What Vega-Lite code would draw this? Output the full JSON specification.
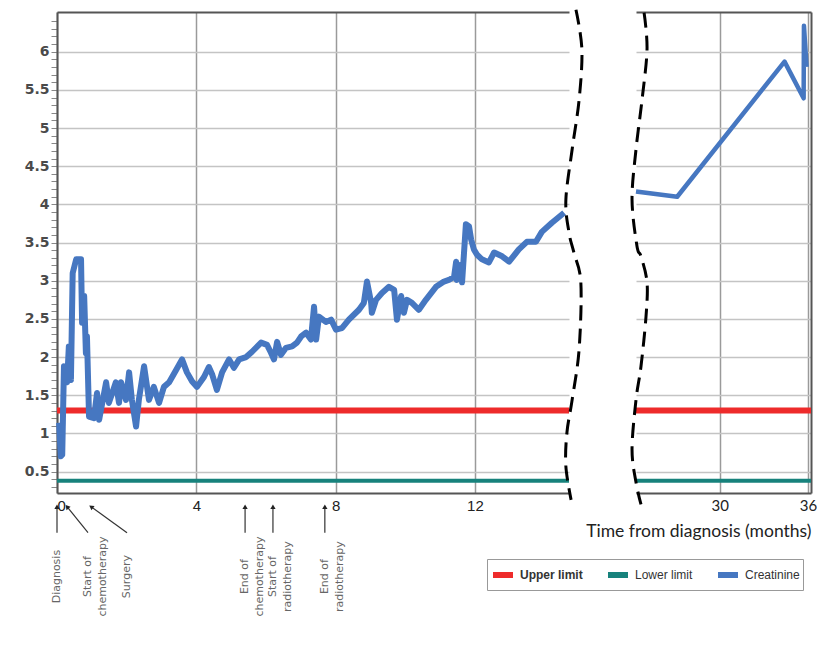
{
  "$schema": "https://vega.github.io/schema/vega-lite/v6.json",
  "background": "white",
  "padding": {"left": 24, "top": 3, "right": 0, "bottom": 0},
  "bounds": "flush",
  "spacing": 67,
  "config": {"view": {"stroke": null}},
  "datasets": {
    "creatLeft": [
      {"m":0.06,"v":1.14},{"m":0.11,"v":0.70},{"m":0.15,"v":0.72},{"m":0.20,"v":1.88},{"m":0.29,"v":1.67},
      {"m":0.34,"v":2.14},{"m":0.40,"v":1.70},{"m":0.45,"v":3.10},{"m":0.55,"v":3.28},{"m":0.69,"v":3.28},
      {"m":0.72,"v":2.45},{"m":0.78,"v":2.80},{"m":0.83,"v":2.05},{"m":0.86,"v":2.27},{"m":0.92,"v":1.22},
      {"m":1.06,"v":1.20},{"m":1.15,"v":1.53},{"m":1.21,"v":1.18},{"m":1.41,"v":1.67},{"m":1.49,"v":1.40},
      {"m":1.69,"v":1.67},{"m":1.78,"v":1.40},{"m":1.84,"v":1.67},{"m":1.98,"v":1.44},{"m":2.07,"v":1.80},
      {"m":2.15,"v":1.44},{"m":2.27,"v":1.09},{"m":2.35,"v":1.44},{"m":2.50,"v":1.88},{"m":2.64,"v":1.44},
      {"m":2.78,"v":1.61},{"m":2.93,"v":1.40},{"m":3.07,"v":1.61},{"m":3.22,"v":1.67},{"m":3.42,"v":1.83},
      {"m":3.59,"v":1.97},{"m":3.73,"v":1.80},{"m":3.88,"v":1.68},{"m":4.02,"v":1.61},{"m":4.22,"v":1.74},
      {"m":4.36,"v":1.87},{"m":4.45,"v":1.78},{"m":4.59,"v":1.57},{"m":4.74,"v":1.80},{"m":4.94,"v":1.97},
      {"m":5.08,"v":1.86},{"m":5.23,"v":1.97},{"m":5.43,"v":2.00},{"m":5.60,"v":2.07},{"m":5.86,"v":2.19},
      {"m":6.03,"v":2.16},{"m":6.14,"v":2.06},{"m":6.23,"v":1.97},{"m":6.32,"v":2.20},{"m":6.43,"v":2.03},
      {"m":6.57,"v":2.12},{"m":6.75,"v":2.14},{"m":6.89,"v":2.19},{"m":7.01,"v":2.27},{"m":7.15,"v":2.32},
      {"m":7.29,"v":2.23},{"m":7.38,"v":2.66},{"m":7.44,"v":2.23},{"m":7.52,"v":2.53},{"m":7.72,"v":2.46},
      {"m":7.87,"v":2.49},{"m":8.01,"v":2.36},{"m":8.18,"v":2.38},{"m":8.38,"v":2.49},{"m":8.67,"v":2.62},
      {"m":8.81,"v":2.71},{"m":8.90,"v":2.99},{"m":9.02,"v":2.71},{"m":9.04,"v":2.58},{"m":9.16,"v":2.75},
      {"m":9.33,"v":2.84},{"m":9.53,"v":2.92},{"m":9.68,"v":2.88},{"m":9.76,"v":2.49},{"m":9.88,"v":2.80},
      {"m":9.96,"v":2.58},{"m":10.05,"v":2.75},{"m":10.19,"v":2.71},{"m":10.39,"v":2.62},{"m":10.59,"v":2.75},
      {"m":10.88,"v":2.92},{"m":11.11,"v":2.99},{"m":11.25,"v":3.01},{"m":11.40,"v":3.05},{"m":11.46,"v":3.25},
      {"m":11.48,"v":3.01},{"m":11.60,"v":3.21},{"m":11.63,"v":2.98},{"m":11.74,"v":3.74},{"m":11.83,"v":3.71},
      {"m":11.89,"v":3.54},{"m":11.97,"v":3.41},{"m":12.06,"v":3.34},{"m":12.20,"v":3.28},{"m":12.40,"v":3.24},
      {"m":12.55,"v":3.37},{"m":12.78,"v":3.32},{"m":12.98,"v":3.25},{"m":13.26,"v":3.41},{"m":13.49,"v":3.51},
      {"m":13.75,"v":3.51},{"m":13.92,"v":3.64},{"m":14.21,"v":3.76},{"m":14.56,"v":3.89}
    ],
    "creatRight": [
      {"m":24.3,"v":4.17},{"m":27.1,"v":4.10},{"m":34.4,"v":5.87},{"m":35.7,"v":5.39},{"m":35.72,"v":6.34},{"m":35.9,"v":5.80}
    ],
    "limits": [
      {"series":"Upper limit","v":1.3},
      {"series":"Lower limit","v":0.38}
    ],
    "waveLeft": [
      {"m":14.90,"v":6.55},{"m":15.07,"v":6.03},{"m":14.99,"v":5.37},{"m":14.79,"v":4.72},{"m":14.61,"v":4.06},
      {"m":14.70,"v":3.63},{"m":14.84,"v":3.37},{"m":15.04,"v":2.98},{"m":14.99,"v":2.10},{"m":14.79,"v":1.44},
      {"m":14.64,"v":1.01},{"m":14.61,"v":0.57},{"m":14.76,"v":0.13}
    ],
    "waveRight": [
      {"m":24.85,"v":6.51},{"m":25.05,"v":6.03},{"m":24.71,"v":5.37},{"m":24.30,"v":4.72},{"m":24.03,"v":4.06},
      {"m":24.37,"v":3.45},{"m":24.64,"v":3.32},{"m":25.05,"v":2.98},{"m":24.98,"v":2.53},{"m":24.64,"v":1.88},
      {"m":24.30,"v":1.44},{"m":24.03,"v":0.79},{"m":24.30,"v":0.36},{"m":24.64,"v":0.07}
    ],
    "events": [
      {"event":"Diagnosis","label":["Diagnosis"],"month":0,"labelAt":0},
      {"event":"Start of chemotherapy","label":["Start of","chemotherapy"],"month":0.29,"labelAt":0.89},
      {"event":"Surgery","label":["Surgery"],"month":0.98,"labelAt":2.01},
      {"event":"End of chemotherapy","label":["End of","chemotherapy"],"month":5.4,"labelAt":5.4},
      {"event":"Start of radiotherapy","label":["Start of","radiotherapy"],"month":6.2,"labelAt":6.2},
      {"event":"End of radiotherapy","label":["End of","radiotherapy"],"month":7.69,"labelAt":7.69}
    ]
  },
  "hconcat": [
    {
      "width": 512,
      "height": 481,
      "resolve": {"axis": {"x": "independent", "y": "independent"}},
      "layer": [
        {
          "data": {"name": "limits"},
          "mark": {"type": "rule"},
          "encoding": {
            "y": {"field": "v", "type": "quantitative", "scale": {"domain": [0.22, 6.52], "nice": false, "zero": false}, "axis": null},
            "color": {"field": "series", "type": "nominal",
              "scale": {"domain": ["Upper limit","Lower limit","Creatinine"], "range": ["#ee2b2b","#17827c","#4677c1"]},
              "legend": {"orient": "none", "legendX": 430, "legendY": 547, "direction": "horizontal", "title": null,
                "strokeColor": "#999", "padding": 3, "columnPadding": 13, "symbolType": "stroke", "symbolSize": 400,
                "symbolStrokeWidth": 6, "labelFont": "Liberation Sans", "labelFontSize": 12, "labelColor": "#333",
                "encode": {"labels": {"update": {"fontWeight": {"signal": "datum.label === 'Upper limit' ? 'bold' : 'normal'"}}}}}},
            "strokeWidth": {"field": "series", "type": "nominal", "scale": {"domain": ["Upper limit","Lower limit"], "range": [6, 4]}, "legend": null}
          }
        },
        {
          "data": {"name": "creatLeft"},
          "mark": {"type": "line", "strokeWidth": 6, "strokeJoin": "round"},
          "encoding": {
            "x": {"field": "m", "type": "quantitative", "scale": {"domain": [0, 14.7], "nice": false, "zero": false},
              "axis": {"orient": "bottom", "values": [0, 4, 8, 12], "title": null, "grid": true, "gridColor": "#9a9a9a", "gridWidth": 1.5,
                "ticks": false, "domainColor": "#555", "domainWidth": 2, "labelFont": "Liberation Sans", "labelFontSize": 15,
                "labelColor": "#222", "labelPadding": 5}},
            "y": {"field": "v", "type": "quantitative", "scale": {"domain": [0.22, 6.52], "nice": false, "zero": false},
              "axis": {"orient": "left", "title": null, "format": "~g",
                "values": [0.3,0.4,0.5,0.6,0.7,0.8,0.9,1,1.1,1.2,1.3,1.4,1.5,1.6,1.7,1.8,1.9,2,2.1,2.2,2.3,2.4,2.5,2.6,2.7,2.8,2.9,3,3.1,3.2,3.3,3.4,3.5,3.6,3.7,3.8,3.9,4,4.1,4.2,4.3,4.4,4.5,4.6,4.7,4.8,4.9,5,5.1,5.2,5.3,5.4,5.5,5.6,5.7,5.8,5.9,6,6.1,6.2,6.3,6.4],
                "labelExpr": "abs(datum.value*2-round(datum.value*2))<0.01 ? datum.label : ''",
                "grid": true, "gridColor": "#c4c4c4", "gridWidth": 1.5,
                "gridOpacity": {"condition": {"test": "abs(datum.value*2-round(datum.value*2))<0.01", "value": 1}, "value": 0},
                "domainColor": "#555", "domainWidth": 2, "tickColor": "#888", "tickSize": 6,
                "labelFont": "DejaVu Sans", "labelFontWeight": "bold", "labelFontSize": 14, "labelColor": "#4a4a4a", "labelPadding": 2}},
            "color": {"datum": "Creatinine", "type": "nominal",
              "scale": {"domain": ["Upper limit","Lower limit","Creatinine"], "range": ["#ee2b2b","#17827c","#4677c1"]},
              "legend": {"orient": "none", "legendX": 430, "legendY": 547, "direction": "horizontal", "title": null,
                "strokeColor": "#999", "padding": 3, "columnPadding": 13, "symbolType": "stroke", "symbolSize": 400,
                "symbolStrokeWidth": 6, "labelFont": "Liberation Sans", "labelFontSize": 12, "labelColor": "#333",
                "encode": {"labels": {"update": {"fontWeight": {"signal": "datum.label === 'Upper limit' ? 'bold' : 'normal'"}}}}}}
          }
        },
        {
          "data": {"name": "waveLeft"},
          "mark": {"type": "line", "color": "black", "strokeWidth": 3, "strokeDash": [15, 8], "interpolate": "cardinal"},
          "encoding": {
            "x": {"field": "m", "type": "quantitative",
              "axis": {"orient": "top", "labels": false, "ticks": false, "grid": false, "title": null, "domainColor": "#555", "domainWidth": 2}},
            "y": {"field": "v", "type": "quantitative", "axis": null},
            "order": {"value": null}
          }
        },
        {
          "data": {"name": "events"},
          "mark": {"type": "rule", "color": "#333", "strokeWidth": 1.2},
          "encoding": {
            "x": {"field": "month", "type": "quantitative", "axis": null},
            "x2": {"field": "labelAt"},
            "y": {"datum": 0.04, "type": "quantitative", "axis": null},
            "y2": {"datum": -0.3}
          }
        },
        {
          "data": {"name": "events"},
          "mark": {"type": "point", "shape": "triangle-up", "filled": true, "color": "#222", "size": 28, "opacity": 1},
          "encoding": {
            "x": {"field": "month", "type": "quantitative", "axis": null},
            "y": {"datum": 0.04, "type": "quantitative", "axis": null},
            "angle": {"field": "event", "type": "nominal", "legend": null,
              "scale": {"type": "ordinal", "domain": ["Diagnosis","Start of chemotherapy","Surgery","End of chemotherapy","Start of radiotherapy","End of radiotherapy"], "range": [0, 321, 306, 0, 0, 0]}}
          }
        },
        {
          "data": {"name": "events"},
          "mark": {"type": "text", "angle": 270, "align": "center", "baseline": "middle", "font": "DejaVu Sans", "fontSize": 11, "lineHeight": 15, "color": "#666"},
          "encoding": {
            "x": {"field": "labelAt", "type": "quantitative", "axis": null},
            "y": {"datum": -0.875, "type": "quantitative", "axis": null},
            "text": {"field": "label"}
          }
        }
      ]
    },
    {
      "width": 175,
      "height": 481,
      "resolve": {"axis": {"x": "independent", "y": "independent"}},
      "layer": [
        {
          "data": {"name": "limits"},
          "mark": {"type": "rule"},
          "encoding": {
            "y": {"field": "v", "type": "quantitative", "scale": {"domain": [0.22, 6.52], "nice": false, "zero": false}, "axis": null},
            "color": {"field": "series", "type": "nominal",
              "scale": {"domain": ["Upper limit","Lower limit","Creatinine"], "range": ["#ee2b2b","#17827c","#4677c1"]},
              "legend": {"orient": "none", "legendX": 430, "legendY": 547, "direction": "horizontal", "title": null,
                "strokeColor": "#999", "padding": 3, "columnPadding": 13, "symbolType": "stroke", "symbolSize": 400,
                "symbolStrokeWidth": 6, "labelFont": "Liberation Sans", "labelFontSize": 12, "labelColor": "#333",
                "encode": {"labels": {"update": {"fontWeight": {"signal": "datum.label === 'Upper limit' ? 'bold' : 'normal'"}}}}}},
            "strokeWidth": {"field": "series", "type": "nominal", "scale": {"domain": ["Upper limit","Lower limit"], "range": [6, 4]}, "legend": null}
          }
        },
        {
          "data": {"name": "creatRight"},
          "mark": {"type": "line", "strokeWidth": 4.5, "strokeJoin": "round"},
          "encoding": {
            "x": {"field": "m", "type": "quantitative", "scale": {"domain": [24.3, 36.2], "nice": false, "zero": false},
              "axis": {"orient": "bottom", "values": [30, 36], "title": "Time from diagnosis (months)", "grid": true, "gridColor": "#9a9a9a", "gridWidth": 1.5,
                "ticks": false, "domainColor": "#555", "domainWidth": 2, "labelFont": "Lato", "labelFontSize": 15,
                "labelColor": "#222", "labelPadding": 5, "titleFont": "Lato", "titleFontSize": 17.5, "titleFontWeight": "normal",
                "titleColor": "#222", "titleAnchor": "end", "titlePadding": 9}},
            "y": {"field": "v", "type": "quantitative", "scale": {"domain": [0.22, 6.52], "nice": false, "zero": false},
              "axis": {"orient": "right", "title": null, "labels": false, "ticks": false,
                "values": [0.5,1,1.5,2,2.5,3,3.5,4,4.5,5,5.5,6],
                "grid": true, "gridColor": "#c4c4c4", "gridWidth": 1.5, "domainColor": "#555", "domainWidth": 2}},
            "color": {"datum": "Creatinine", "type": "nominal",
              "scale": {"domain": ["Upper limit","Lower limit","Creatinine"], "range": ["#ee2b2b","#17827c","#4677c1"]},
              "legend": {"orient": "none", "legendX": 430, "legendY": 547, "direction": "horizontal", "title": null,
                "strokeColor": "#999", "padding": 3, "columnPadding": 13, "symbolType": "stroke", "symbolSize": 400,
                "symbolStrokeWidth": 6, "labelFont": "Liberation Sans", "labelFontSize": 12, "labelColor": "#333",
                "encode": {"labels": {"update": {"fontWeight": {"signal": "datum.label === 'Upper limit' ? 'bold' : 'normal'"}}}}}}
          }
        },
        {
          "data": {"name": "waveRight"},
          "mark": {"type": "line", "color": "black", "strokeWidth": 3, "strokeDash": [15, 8], "interpolate": "cardinal"},
          "encoding": {
            "x": {"field": "m", "type": "quantitative",
              "axis": {"orient": "top", "labels": false, "ticks": false, "grid": false, "title": null, "domainColor": "#555", "domainWidth": 2}},
            "y": {"field": "v", "type": "quantitative", "axis": null},
            "order": {"value": null}
          }
        }
      ]
    }
  ],
  "resolve": {"scale": {"x": "independent", "y": "independent", "color": "shared", "strokeWidth": "shared"}, "legend": {"color": "shared"}}
}
